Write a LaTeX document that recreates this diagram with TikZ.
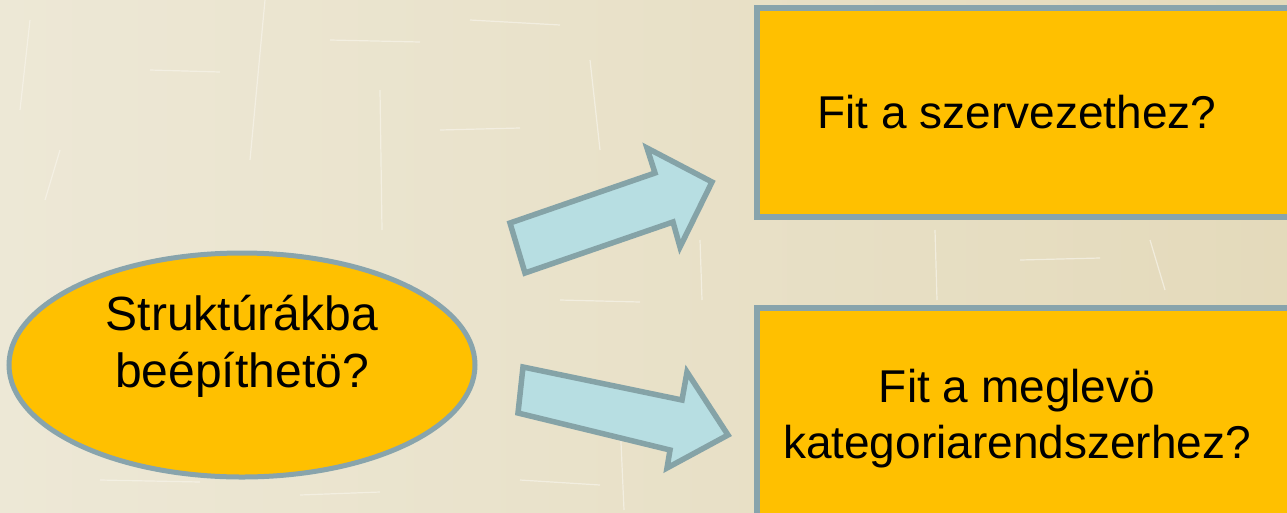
\documentclass[tikz,border=0pt]{standalone}
\usepackage{fontspec}
\setmainfont{Liberation Sans}
\usetikzlibrary{shapes.geometric}
\definecolor{bgA}{HTML}{EDE8D6}
\definecolor{bgB}{HTML}{E4DABB}
\definecolor{boxfill}{HTML}{FFC000}
\definecolor{edgecol}{HTML}{88A4AC}
\definecolor{arrowfill}{HTML}{B7DEE2}
\definecolor{arrowedge}{HTML}{85A3A7}
\definecolor{scratch}{HTML}{F7F4EA}
\begin{document}
\begin{tikzpicture}[x=1pt,y=-1pt,
  lbl/.style={font=\fontsize{46}{56}\selectfont, text=black, anchor=base, inner sep=0pt},
  elbl/.style={lbl, font=\fontsize{48}{57}\selectfont},
  boxshape/.style={fill=boxfill, draw=edgecol, line width=6pt},
  blockarrow/.style={fill=arrowfill, draw=arrowedge, line width=5.5pt, line join=miter},
  scr/.style={draw=scratch, line width=1.2pt, opacity=0.7}]
\useasboundingbox (0,0) rectangle (1287,512);
% background
\shade[left color=bgA, right color=bgB] (0,0) rectangle (1287,512);
\begin{scope}
\clip (0,0) rectangle (1287,512);
\draw[scr] (30,20) -- (20,110);
\draw[scr] (265,0) -- (250,160);
\draw[scr] (150,70) -- (220,72);
\draw[scr] (60,150) -- (45,200);
\draw[scr] (330,40) -- (420,42);
\draw[scr] (380,90) -- (382,230);
\draw[scr] (470,20) -- (560,25);
\draw[scr] (590,60) -- (600,150);
\draw[scr] (440,130) -- (520,128);
\draw[scr] (700,240) -- (702,300);
\draw[scr] (560,300) -- (640,302);
\draw[scr] (620,420) -- (624,510);
\draw[scr] (520,480) -- (600,485);
\draw[scr] (935,230) -- (937,300);
\draw[scr] (1150,240) -- (1165,290);
\draw[scr] (1020,260) -- (1100,258);
\draw[scr] (100,480) -- (200,482);
\draw[scr] (300,495) -- (380,492);
\end{scope}
% boxes
\path[boxshape] (757,8) rectangle (1300,217);
\node[inner sep=0pt] (boxA) at (1028,112) {};
\path[boxshape] (757,308) rectangle (1300,530);
\node[inner sep=0pt] (boxB) at (1028,410) {};
\node[lbl] (tA) at (1017,128) {Fit a szervezethez?};
\node[lbl] (tB1) at (1017,402) {Fit a meglevö};
\node[lbl] (tB2) at (1017,458) {kategoriarendszerhez?};
% ellipse
\node[ellipse, fill=boxfill, draw=edgecol, line width=5pt,
      minimum width=466pt, minimum height=224pt, inner sep=0pt] (src) at (242,365) {};
\node[elbl] (s1) at (242,330) {Struktúrákba};
\node[elbl] (s2) at (242,387) {beépíthetö?};
% block arrows
\draw[blockarrow] (510,223) -- (655,173) -- (647,148) -- (712,182) -- (680,247) -- (673,222) -- (525,273) -- cycle;
\draw[blockarrow] (523,367) -- (682,400) -- (687,372) -- (728,435) -- (667,468) -- (670,450) -- (518,413) -- cycle;
\end{tikzpicture}
\end{document}
